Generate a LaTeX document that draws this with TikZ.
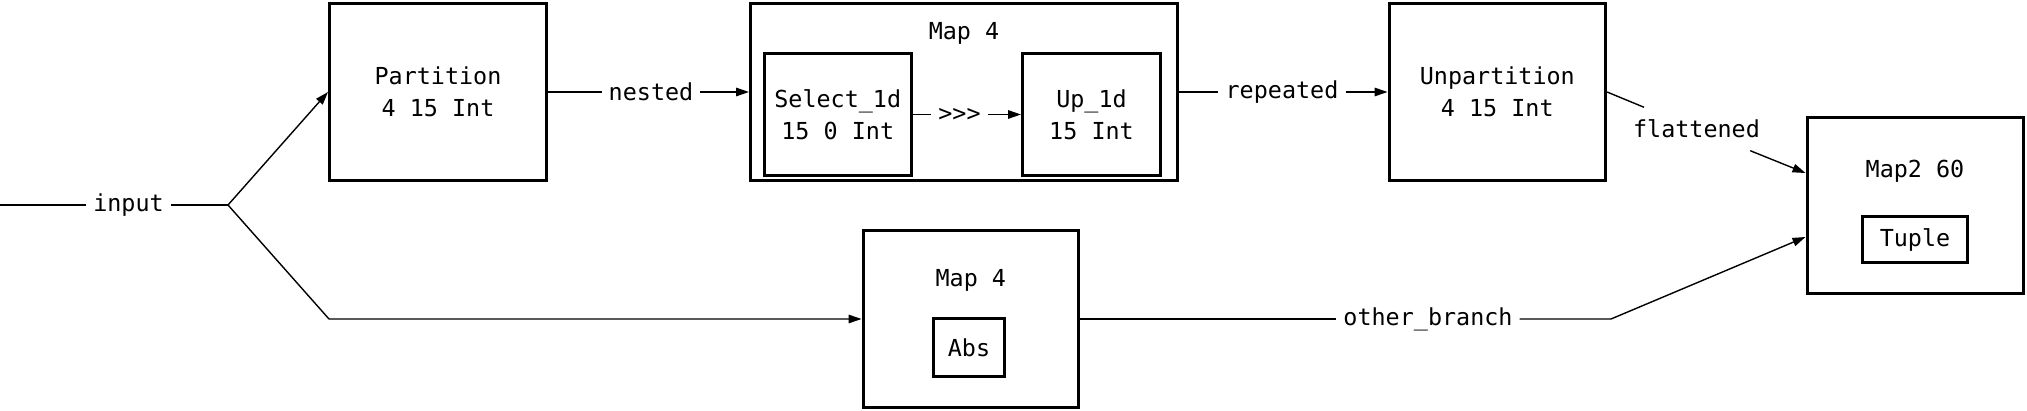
\documentclass[tikz,border=0pt]{standalone}
\usepackage{fontspec}
\setmainfont{DejaVu Sans Mono}
\usetikzlibrary{arrows.meta}
\begin{document}
\begin{tikzpicture}[x=1pt,y=-1pt,
  font=\fontsize{23.4}{32}\selectfont,
  box/.style={draw, line width=3pt, inner sep=0pt, align=center},
  lbl/.style={inner xsep=7pt, inner ysep=2pt},
  ttl/.style={anchor=base, inner sep=0pt},
  conn/.style={line width=1.4pt},
  arr/.style={conn, -{Triangle[length=13pt,width=8.5pt]}}
]
\useasboundingbox (0,0) rectangle (2027,411);

% boxes
\node[box, minimum width=217pt, minimum height=177pt] (part) at (438,92) {Partition\\4 15 Int};
\node[box, minimum width=427pt, minimum height=177pt] (map4a) at (964,92) {};
\node[ttl] (map4at) at (964,40) {Map 4};
\node[box, minimum width=147.5pt, minimum height=122pt] (sel) at (837.75,114.5) {Select\_1d\\15 0 Int};
\node[box, minimum width=138pt, minimum height=122pt] (up) at (1091.5,114.5) {Up\_1d\\15 Int};
\node[box, minimum width=216.5pt, minimum height=177pt] (unpart) at (1497.3,92) {Unpartition\\4 15 Int};
\node[box, minimum width=215.5pt, minimum height=177pt] (map4b) at (970.8,319) {};
\node[ttl] (map4bt) at (970.8,287) {Map 4};
\node[box, minimum width=71pt, minimum height=58pt] (abs) at (969,347.5) {Abs};
\node[box, minimum width=216pt, minimum height=176pt] (map2) at (1915,205.5) {};
\node[ttl] (map2t) at (1915,178) {Map2 60};
\node[box, minimum width=105pt, minimum height=46pt] (tuple) at (1915,239.5) {Tuple};

% labels
\coordinate (in0) at (0,205);
\coordinate (split) at (228,205);
\coordinate (bend) at (329,319);
\coordinate (bend2) at (1611,319);
\node[lbl] (inl) at (128.5,205) {input};
\node[lbl] (nest) at (651,92) {nested};
\node[lbl] (gt) at (959.5,114.5) {>{}>{}>};
\node[lbl] (rep) at (1282,92) {repeated};
\node[lbl, minimum height=43pt] (flat) at (1696.5,129) {flattened};
\node[lbl] (oth) at (1428,319) {other\_branch};

% connectors
\draw[conn] (in0) -- (inl) -- (split);
\draw[arr] (split) -- (part.west);
\draw[arr] (split) -- (bend) -- (map4b.west);
\draw[conn] (part) -- (nest);
\draw[arr] (nest) -- (map4a);
\draw[conn] (sel) -- (gt);
\draw[arr] (gt) -- (up);
\draw[conn] (map4a) -- (rep);
\draw[arr] (rep) -- (unpart);
\draw[conn] (unpart.east) -- (flat);
\draw[arr] (flat) -- ([yshift=32.5pt]map2.west);
\draw[conn] (map4b) -- (oth);
\draw[arr] (oth) -- (bend2) -- ([yshift=-31.5pt]map2.west);
\end{tikzpicture}
\end{document}
